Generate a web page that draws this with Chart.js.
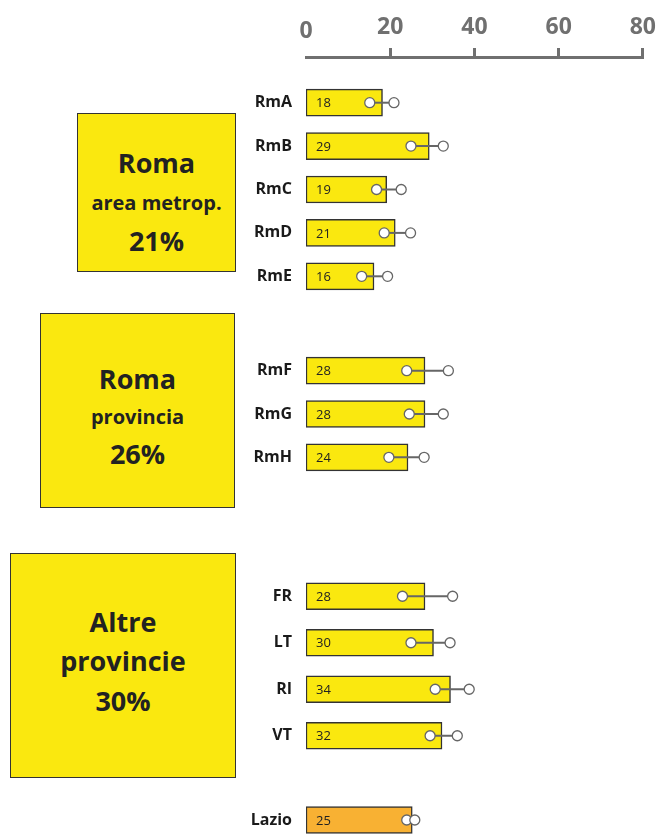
<!DOCTYPE html>
<html>
<head>
<title>Lazio</title>
<script src="https://cdn.jsdelivr.net/npm/chart.js@4/dist/chart.umd.min.js"></script>
<style>
  body { margin: 0; background: #fff; font-family: "Open Sans", sans-serif; }
  #wrap { position: relative; width: 663px; height: 834px; overflow: hidden; }
  canvas { position: absolute; left: 200px; }
  .box { position: absolute; box-sizing: border-box; background: #FAE80F; border: 1.5px solid #333; color: #222; font-weight: bold; }
  .box div { position: absolute; left: 0; right: 0; height: 30px; line-height: 30px; text-align: center; white-space: nowrap; }
  .big { font-size: 27px; }
  .small { font-size: 20px; }
</style>
</head>
<body>
<div id="wrap">
  <div class="box" style="left:77px;top:113px;width:159px;height:159px">
    <div class="big" style="top:34px">Roma</div>
    <div class="small" style="top:74px">area metrop.</div>
    <div class="big" style="top:112px">21%</div>
  </div>
  <div class="box" style="left:40px;top:313px;width:195px;height:195px">
    <div class="big" style="top:50px">Roma</div>
    <div class="small" style="top:88px">provincia</div>
    <div class="big" style="top:125px">26%</div>
  </div>
  <div class="box" style="left:10px;top:553px;width:226px;height:225px">
    <div class="big" style="top:53px">Altre</div>
    <div class="big" style="top:92px">provincie</div>
    <div class="big" style="top:132px">30%</div>
  </div>

  <canvas id="axis" width="463" height="62" style="top:0px"></canvas>
  <canvas id="metro" width="463" height="217" style="top:81px"></canvas>
  <canvas id="prov" width="463" height="130" style="top:349px"></canvas>
  <canvas id="altre" width="463" height="186" style="top:573px"></canvas>
  <canvas id="lazio" width="463" height="46" style="top:797px"></canvas>
</div>

<script>
// values
var tickValues = [0, 20, 40, 60, 80];

var metroLabels = ["RmA", "RmB", "RmC", "RmD", "RmE"];
var metroValues = [18, 29, 19, 21, 16];
var metroLow = [15, 24.7, 16.6, 18.4, 13.1];
var metroHigh = [20.7, 32.3, 22.4, 24.6, 19.2];

var provLabels = ["RmF", "RmG", "RmH"];
var provValues = [28, 28, 24];
var provLow = [23.7, 24.3, 19.5];
var provHigh = [33.5, 32.3, 27.8];

var altreLabels = ["FR", "LT", "RI", "VT"];
var altreValues = [28, 30, 34, 32];
var altreLow = [22.7, 24.7, 30.4, 29.2];
var altreHigh = [34.5, 33.9, 38.4, 35.6];

var lazioLabels = ["Lazio"];
var lazioValues = [25];
var lazioLow = [23.7];
var lazioHigh = [25.6];

var FONT = "'Open Sans', sans-serif";
var GREY = "#707070";

// number inside the bar + the range line with 2 circles
var barExtras = {
  id: "barExtras",
  afterDatasetsDraw: function(chart){
    var ctx = chart.ctx;
    var ds = chart.data.datasets[0];
    var x = chart.scales.x;
    var meta = chart.getDatasetMeta(0);
    ctx.save();
    meta.data.forEach(function(bar, i){
      ctx.fillStyle = "#222";
      ctx.font = "13px " + FONT;
      ctx.textAlign = "left";
      ctx.textBaseline = "middle";
      ctx.fillText(ds.data[i], bar.base + 10, bar.y + 1);

      var x1 = x.getPixelForValue(ds.low[i]);
      var x2 = x.getPixelForValue(ds.high[i]);
      ctx.strokeStyle = "#666";
      ctx.lineWidth = 2;
      ctx.beginPath();
      ctx.moveTo(x1, bar.y);
      ctx.lineTo(x2, bar.y);
      ctx.stroke();
      [x1, x2].forEach(function(cx){
        ctx.beginPath();
        ctx.arc(cx, bar.y, 5, 0, Math.PI * 2);
        ctx.fillStyle = "#fff";
        ctx.fill();
        ctx.lineWidth = 1.3;
        ctx.stroke();
      });
    });
    ctx.restore();
  }
};

function makeGroup(id, labels, values, low, high, color){
  return new Chart(document.getElementById(id), {
    type: "bar",
    data: {
      labels: labels,
      datasets: [{
        data: values,
        low: low,
        high: high,
        backgroundColor: color,
        borderColor: "#333",
        borderWidth: 1.5,
        borderSkipped: false,
        barThickness: 27
      }]
    },
    options: {
      indexAxis: "y",
      responsive: false,
      animation: false,
      layout: { padding: { left: 0, right: 17, top: 0, bottom: 0 } },
      plugins: { legend: { display: false }, tooltip: { enabled: false } },
      scales: {
        x: { display: false, min: 0, max: 80 },
        y: {
          // fixed width, and no extra room above/below for the labels
          afterFit: function(s){
            s.width = 106;
            s.paddingTop = 0;
            s.paddingBottom = 0;
          },
          grid: { display: false, drawTicks: false },
          border: { display: false },
          ticks: { padding: 14, color: "#1a1a1a", font: { family: FONT, size: 16, weight: "bold" } }
        }
      }
    },
    plugins: [barExtras]
  });
}

// top axis only
new Chart(document.getElementById("axis"), {
  type: "bar",
  data: { labels: [], datasets: [] },
  options: {
    indexAxis: "y",
    responsive: false,
    animation: false,
    layout: { padding: { left: 106, right: 17, top: 0, bottom: 0 } },
    plugins: { legend: { display: false }, tooltip: { enabled: false } },
    scales: {
      y: { display: false },
      x: {
        position: "top",
        min: 0,
        max: 80,
        afterFit: function(s){ s.height = 57; },
        afterBuildTicks: function(s){
          s.ticks = tickValues.map(function(v){ return { value: v }; });
        },
        grid: {
          drawOnChartArea: false,
          drawTicks: true,
          tickLength: 9,
          lineWidth: 3,
          color: function(c){ return c.tick && c.tick.value === 0 ? "rgba(0,0,0,0)" : GREY; }
        },
        border: { display: true, color: GREY, width: 3 },
        ticks: {
          padding: 7,
          color: GREY,
          font: function(c){
            var lh = c.tick && c.tick.value === 0 ? 0.82 : 1.2;
            return { family: FONT, size: 23, weight: "bold", lineHeight: lh };
          }
        }
      }
    }
  }
});

makeGroup("metro", metroLabels, metroValues, metroLow, metroHigh, "#FAE80F");
makeGroup("prov", provLabels, provValues, provLow, provHigh, "#FAE80F");
makeGroup("altre", altreLabels, altreValues, altreLow, altreHigh, "#FAE80F");
makeGroup("lazio", lazioLabels, lazioValues, lazioLow, lazioHigh, "#F8B133");
</script>
</body>
</html>
